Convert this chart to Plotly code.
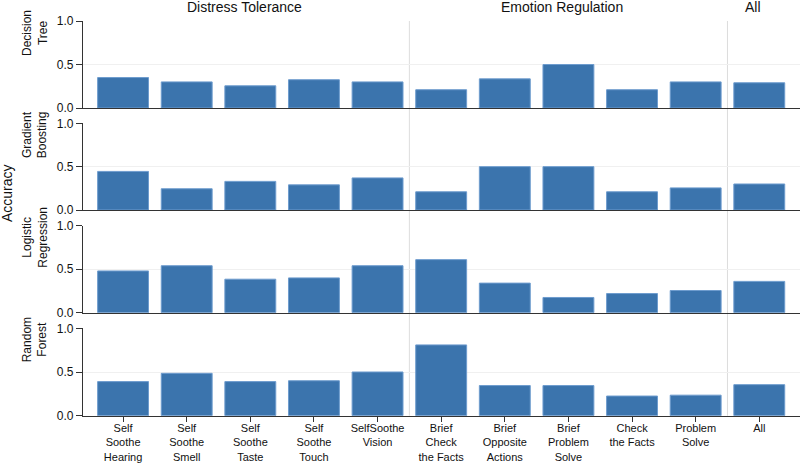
import plotly.graph_objects as go

categories = ["Self<br>Soothe<br>Hearing", "Self<br>Soothe<br>Smell", "Self<br>Soothe<br>Taste",
              "Self<br>Soothe<br>Touch", "SelfSoothe<br>Vision", "Brief<br>Check<br>the Facts",
              "Brief<br>Opposite<br>Actions", "Brief<br>Problem<br>Solve", "Check<br>the Facts",
              "Problem<br>Solve", "All"]
groups = ["Distress Tolerance", "Emotion Regulation", "All"]
models = ["Decision<br>Tree", "Gradient<br>Boosting", "Logistic<br>Regression", "Random<br>Forest"]

decision_tree = [0.35, 0.30, 0.255, 0.325, 0.30, 0.21, 0.335, 0.50, 0.21, 0.30, 0.29]
gradient_boosting = [0.445, 0.245, 0.33, 0.29, 0.37, 0.21, 0.50, 0.50, 0.21, 0.255, 0.30]
logistic_regression = [0.48, 0.54, 0.385, 0.40, 0.54, 0.61, 0.34, 0.175, 0.22, 0.255, 0.36]
random_forest = [0.39, 0.485, 0.39, 0.40, 0.50, 0.81, 0.345, 0.345, 0.225, 0.235, 0.355]
series = [decision_tree, gradient_boosting, logistic_regression, random_forest]
yticks = [0.0, 0.5, 1.0]

W, H = 800, 463
panel_px = [(21, 108), (123.3, 210), (225.7, 312.7), (328.3, 415.7)]
x_idx = list(range(len(categories)))

fig = go.Figure()
for i, vals in enumerate(series):
    n = "" if i == 0 else str(i + 1)
    fig.add_trace(go.Bar(
        x=x_idx, y=vals, xaxis="x" + n, yaxis="y" + n, width=0.8,
        marker=dict(color="#3b74ad", line=dict(color="#6e9cce", width=1)),
        showlegend=False, hoverinfo="y"))
    top, bot = panel_px[i]
    dom = [1 - bot / H, 1 - top / H]
    last = i == len(series) - 1
    fig.layout["xaxis" + n] = dict(
        domain=[83 / W, 1.0], range=[-0.63, 10.64], anchor="y" + n, automargin=False,
        tickmode="array", tickvals=x_idx, ticktext=categories if last else [""] * len(categories),
        showticklabels=last, ticks="outside" if last else "", ticklen=5, tickcolor="#333",
        ticklabelstandoff=-3,
        showline=True, linecolor="#333", linewidth=1.2, showgrid=False, zeroline=False,
        tickfont=dict(size=11, color="#111"), fixedrange=True)
    fig.layout["yaxis" + n] = dict(
        domain=dom, range=[0, 1], anchor="x" + n, automargin=False,
        tickmode="array", tickvals=yticks,
        ticktext=["%.1f" % v for v in yticks], ticks="outside", ticklen=6, tickcolor="#333",
        showline=True, linecolor="#333", linewidth=1.2, showgrid=True, gridcolor="#f0f0f0",
        zeroline=False, tickfont=dict(size=12, color="#111"), fixedrange=True)
    fig.add_annotation(text=models[i], xref="paper", yref="paper", x=35 / W,
                       y=1 - (top + 12) / H, textangle=-90, showarrow=False,
                       font=dict(size=12, color="#111"), xanchor="center", yanchor="middle")

# group dividers
for xv in [4.5, 9.5]:
    fig.add_shape(type="line", xref="x4", yref="paper", x0=xv, x1=xv,
                  y0=1 - panel_px[-1][1] / H, y1=1 - panel_px[0][0] / H,
                  line=dict(color="#dddddd", width=1), layer="below")

group_x = [244.5, 562, 752.8]
for g, gx in zip(groups, group_x):
    fig.add_annotation(text=g, xref="paper", yref="paper", x=gx / W, y=1 - 6.5 / H,
                       showarrow=False, font=dict(size=14, color="#111"),
                       xanchor="center", yanchor="middle")

fig.add_annotation(text="Accuracy", xref="paper", yref="paper", x=7 / W, y=1 - 193 / H,
                   textangle=-90, showarrow=False, font=dict(size=14, color="#111"),
                   xanchor="center", yanchor="middle")

fig.update_layout(template="none", width=W, height=H, margin=dict(l=0, r=0, t=0, b=0, pad=0),
                  paper_bgcolor="white", plot_bgcolor="white", bargap=0.2,
                  font=dict(family="Liberation Sans, Arial, sans-serif", size=12, color="#111"))
fig.write_html("out.html", config={"displayModeBar": False},
               post_script="document.body.style.margin='0';document.body.style.overflow='hidden';")
